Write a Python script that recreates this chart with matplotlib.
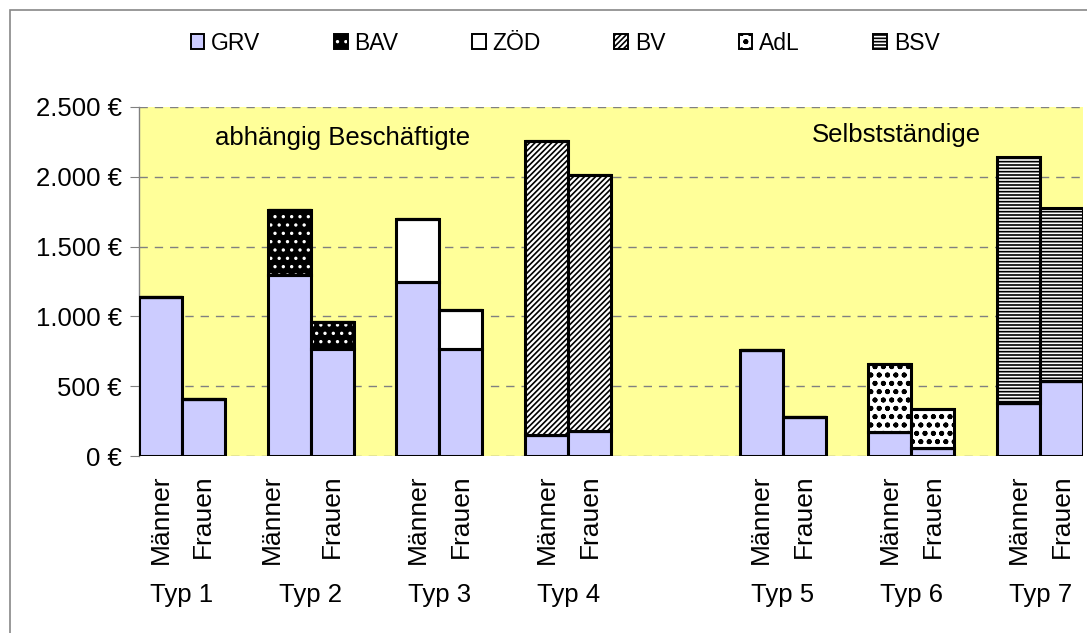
import matplotlib.pyplot as plt
from matplotlib.patches import Patch, Rectangle
from matplotlib.ticker import FuncFormatter
import matplotlib.transforms as mtransforms

plt.rcParams['font.family'] = ['Liberation Sans', 'DejaVu Sans']
plt.rcParams['hatch.linewidth'] = 1.2

# data (Euro per month)
types = ['Typ 1', 'Typ 2', 'Typ 3', 'Typ 4', 'Typ 5', 'Typ 6', 'Typ 7']
sexes = ['Männer', 'Frauen']
grv_m = [1140, 1300, 1250, 150, 760, 175, 380]
grv_f = [410, 765, 770, 180, 280, 60, 540]
bav_m = [0, 460, 0, 0, 0, 0, 0]
bav_f = [0, 195, 0, 0, 0, 0, 0]
zoed_m = [0, 0, 450, 0, 0, 0, 0]
zoed_f = [0, 0, 275, 0, 0, 0, 0]
bv_m = [0, 0, 0, 2105, 0, 0, 0]
bv_f = [0, 0, 0, 1830, 0, 0, 0]
adl_m = [0, 0, 0, 0, 0, 485, 0]
adl_f = [0, 0, 0, 0, 0, 280, 0]
bsv_m = [0, 0, 0, 0, 0, 0, 1760]
bsv_f = [0, 0, 0, 0, 0, 0, 1240]

# slot of the "Männer" bar of each type (gaps between groups)
slots = [0, 3, 6, 9, 14, 17, 20]

series = [
    ('GRV', grv_m, grv_f, dict(facecolor='#CCCCFF', edgecolor='black')),
    ('BAV', bav_m, bav_f, dict(facecolor='black', edgecolor='white', hatch='..')),
    ('ZÖD', zoed_m, zoed_f, dict(facecolor='white', edgecolor='black')),
    ('BV', bv_m, bv_f, dict(facecolor='white', edgecolor='black', hatch='//////')),
    ('AdL', adl_m, adl_f, dict(facecolor='white', edgecolor='black', hatch='oo..')),
    ('BSV', bsv_m, bsv_f, dict(facecolor='white', edgecolor='black', hatch='-----')),
]

fig = plt.figure(figsize=(10.87, 6.33), dpi=100)
ax = fig.add_axes([139 / 1087, 1 - 456 / 633, 944 / 1087, 349 / 633])
ax.set_facecolor('#FFFF99')

# outer frame
fig.patches.append(Rectangle((10 / 1087, -0.1), 1.1, 1.1 - 10 / 633, transform=fig.transFigure,
                             fill=False, edgecolor='#888888', lw=1.2))

xm = slots
xf = [s + 1 for s in slots]
bot_m = [0] * 7
bot_f = [0] * 7
handles = []
for name, vm, vf, st in series:
    for xs, vals, bot in ((xm, vm, bot_m), (xf, vf, bot_f)):
        ax.bar(xs, vals, bottom=bot, width=1.0, align='center', linewidth=0 if name == 'BAV' else 2.2,
               zorder=3, **st)
        if name == 'BAV':
            ax.bar(xs, vals, bottom=bot, width=1.0, fill=False, edgecolor='black', linewidth=2.2, zorder=4)
        for i in range(7):
            bot[i] += vals[i]
    if name == 'BAV':
        handles.append((Patch(lw=0, **st), Patch(fill=False, edgecolor='black', lw=1.4)))
    else:
        handles.append(Patch(lw=1.4, **st))

ax.set_xlim(-0.5, 21.5)
ax.set_ylim(0, 2500)
ax.set_yticks(range(0, 2501, 500))
ax.yaxis.set_major_formatter(FuncFormatter(lambda v, p: f'{int(v):,} €'.replace(',', '.')))
ax.yaxis.grid(True, color='#808080', linestyle=(0, (6, 5)), linewidth=1.0, zorder=1)
ax.set_axisbelow(True)
for s in ax.spines.values():
    s.set_visible(False)
ax.spines['left'].set_visible(True)
ax.spines['left'].set_color('#808080')
ax.spines['left'].set_linewidth(1.0)
ax.tick_params(axis='y', length=6.5, color='#808080', labelsize=18.5, pad=6)
ax.set_xticks([])

# the "Männer" label of Typ 2 sits a bit left of its bar in the original
shift_m = [0, -0.4, 0, 0, 0, 0, 0]

trans = mtransforms.blended_transform_factory(ax.transData, ax.transAxes)
for i, t in enumerate(types):
    ax.text(xm[i] + shift_m[i], -0.052, sexes[0], rotation=90, ha='center', va='top', fontsize=19, transform=trans)
    ax.text(xf[i], -0.052, sexes[1], rotation=90, ha='center', va='top', fontsize=19, transform=trans)
    ax.text(xm[i] + 0.5, -0.398, t, ha='center', va='center', fontsize=18.5, transform=trans)

ax.text(1.27, 2280, 'abhängig Beschäftigte', ha='left', va='center', fontsize=18.5, zorder=5)
ax.text(15.19, 2300, 'Selbstständige', ha='left', va='center', fontsize=18.5, zorder=5)

fig.legend(handles, [s[0] for s in series], loc='center', bbox_to_anchor=(0.52, 1 - 43 / 633),
           ncol=6, frameon=False, fontsize=16.5, handlelength=0.6, handleheight=0.6,
           handletextpad=0.3, columnspacing=3.2)

fig.savefig('out.png', dpi=100)
